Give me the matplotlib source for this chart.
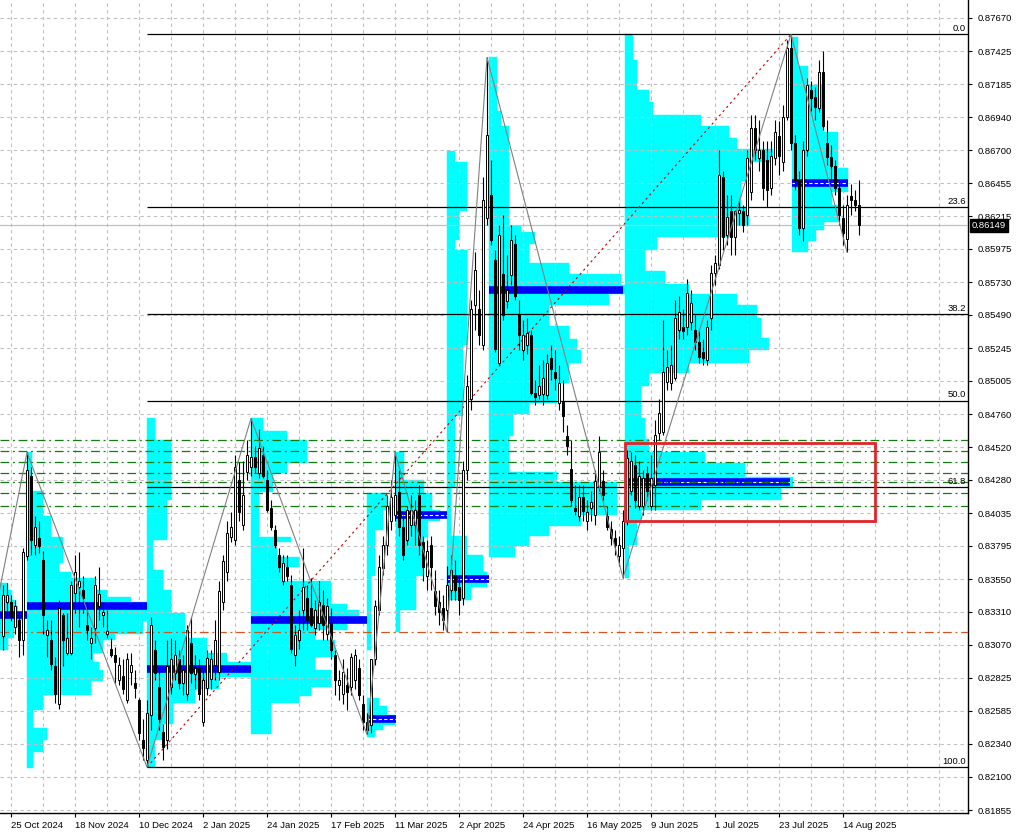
import matplotlib
matplotlib.use("Agg")
import matplotlib.pyplot as plt
from matplotlib.patches import Rectangle
import numpy as np

plt.rcParams['font.family'] = ['Liberation Sans', 'DejaVu Sans']

# daily candles, one per trading day from 23 Oct 2024 to 20 Aug 2025
opens = [0.8313, 0.8338, 0.8338, 0.8320, 0.8325, 0.8310, 0.8372, 0.8431, 0.8380, 0.8385,
         0.8369, 0.8314, 0.8310, 0.8291, 0.8263, 0.8329, 0.8301, 0.8301, 0.8345, 0.8349,
         0.8347, 0.8321, 0.8308, 0.8319, 0.8335, 0.8329, 0.8315, 0.8304, 0.8299, 0.8281,
         0.8284, 0.8266, 0.8287, 0.8279, 0.8266, 0.8237, 0.8222, 0.8255, 0.8303, 0.8276,
         0.8243, 0.8237, 0.8276, 0.8286, 0.8296, 0.8279, 0.8271, 0.8308, 0.8285, 0.8290,
         0.8250, 0.8275, 0.8282, 0.8292, 0.8287, 0.8338, 0.8360, 0.8386, 0.8384, 0.8428,
         0.8395, 0.8434, 0.8437, 0.8445, 0.8433, 0.8446, 0.8428, 0.8407, 0.8391, 0.8373,
         0.8354, 0.8364, 0.8351, 0.8299, 0.8310, 0.8332, 0.8341, 0.8334, 0.8319, 0.8323,
         0.8336, 0.8315, 0.8323, 0.8299, 0.8277, 0.8271, 0.8277, 0.8276, 0.8281, 0.8290,
         0.8263, 0.8250, 0.8248, 0.8296, 0.8332, 0.8363, 0.8380, 0.8398, 0.8402, 0.8419,
         0.8393, 0.8384, 0.8395, 0.8395, 0.8417, 0.8382, 0.8357, 0.8380, 0.8346, 0.8338,
         0.8334, 0.8332, 0.8347, 0.8358, 0.8349, 0.8341, 0.8435, 0.8487, 0.8556, 0.8553,
         0.8527, 0.8620, 0.8637, 0.8589, 0.8514, 0.8579, 0.8559, 0.8578, 0.8601, 0.8550,
         0.8523, 0.8527, 0.8534, 0.8492, 0.8490, 0.8491, 0.8490, 0.8517, 0.8507, 0.8484,
         0.8485, 0.8460, 0.8436, 0.8407, 0.8401, 0.8415, 0.8398, 0.8407, 0.8402, 0.8423,
         0.8427, 0.8401, 0.8392, 0.8385, 0.8372, 0.8378, 0.8398, 0.8420, 0.8439, 0.8409,
         0.8409, 0.8433, 0.8409, 0.8424, 0.8462, 0.8463, 0.8500, 0.8499, 0.8503, 0.8538,
         0.8540, 0.8540, 0.8544, 0.8538, 0.8529, 0.8522, 0.8516, 0.8547, 0.8580, 0.8586,
         0.8650, 0.8608, 0.8625, 0.8606, 0.8624, 0.8625, 0.8622, 0.8639, 0.8686, 0.8664,
         0.8670, 0.8663, 0.8642, 0.8664, 0.8680, 0.8661, 0.8694, 0.8745, 0.8675, 0.8648,
         0.8613, 0.8670, 0.8714, 0.8709, 0.8701, 0.8727, 0.8675, 0.8665, 0.8658, 0.8642,
         0.8620, 0.8605, 0.8636, 0.8633, 0.8630]
highs = [0.8351, 0.8352, 0.8343, 0.8340, 0.8331, 0.8378, 0.8448, 0.8437, 0.8401, 0.8398,
         0.8376, 0.8325, 0.8325, 0.8298, 0.8340, 0.8330, 0.8330, 0.8354, 0.8373, 0.8375,
         0.8357, 0.8338, 0.8320, 0.8357, 0.8364, 0.8338, 0.8332, 0.8312, 0.8305, 0.8298,
         0.8296, 0.8301, 0.8301, 0.8288, 0.8268, 0.8252, 0.8266, 0.8327, 0.8310, 0.8288,
         0.8249, 0.8310, 0.8312, 0.8310, 0.8303, 0.8299, 0.8321, 0.8327, 0.8299, 0.8296,
         0.8288, 0.8303, 0.8303, 0.8325, 0.8354, 0.8373, 0.8398, 0.8404, 0.8446, 0.8441,
         0.8442, 0.8457, 0.8473, 0.8453, 0.8465, 0.8453, 0.8435, 0.8413, 0.8395, 0.8378,
         0.8373, 0.8373, 0.8358, 0.8321, 0.8332, 0.8378, 0.8351, 0.8356, 0.8340, 0.8354,
         0.8347, 0.8341, 0.8334, 0.8303, 0.8288, 0.8296, 0.8290, 0.8301, 0.8304, 0.8296,
         0.8270, 0.8257, 0.8266, 0.8340, 0.8373, 0.8387, 0.8417, 0.8428, 0.8448, 0.8435,
         0.8402, 0.8409, 0.8417, 0.8413, 0.8424, 0.8387, 0.8384, 0.8387, 0.8362, 0.8347,
         0.8343, 0.8365, 0.8373, 0.8369, 0.8358, 0.8442, 0.8505, 0.8560, 0.8595, 0.8567,
         0.8650, 0.8738, 0.8663, 0.8597, 0.8615, 0.8622, 0.8593, 0.8615, 0.8608, 0.8560,
         0.8545, 0.8547, 0.8538, 0.8501, 0.8512, 0.8516, 0.8520, 0.8527, 0.8523, 0.8512,
         0.8501, 0.8468, 0.8457, 0.8424, 0.8424, 0.8424, 0.8413, 0.8420, 0.8435, 0.8460,
         0.8435, 0.8409, 0.8398, 0.8391, 0.8387, 0.8406, 0.8450, 0.8448, 0.8446, 0.8442,
         0.8435, 0.8438, 0.8446, 0.8472, 0.8487, 0.8545, 0.8523, 0.8527, 0.8560, 0.8563,
         0.8553, 0.8575, 0.8567, 0.8549, 0.8538, 0.8531, 0.8545, 0.8586, 0.8593, 0.8670,
         0.8655, 0.8637, 0.8637, 0.8626, 0.8633, 0.8630, 0.8670, 0.8696, 0.8696, 0.8692,
         0.8677, 0.8677, 0.8677, 0.8692, 0.8691, 0.8703, 0.8751, 0.8755, 0.8681, 0.8655,
         0.8677, 0.8723, 0.8721, 0.8716, 0.8736, 0.8743, 0.8692, 0.8674, 0.8663, 0.8648,
         0.8630, 0.8637, 0.8645, 0.8641, 0.8648]
lows = [0.8303, 0.8330, 0.8324, 0.8315, 0.8298, 0.8299, 0.8369, 0.8373, 0.8373, 0.8374,
        0.8315, 0.8298, 0.8288, 0.8264, 0.8260, 0.8291, 0.8299, 0.8299, 0.8330, 0.8320,
        0.8330, 0.8310, 0.8296, 0.8308, 0.8325, 0.8320, 0.8312, 0.8298, 0.8279, 0.8277,
        0.8271, 0.8264, 0.8277, 0.8268, 0.8237, 0.8222, 0.8217, 0.8244, 0.8281, 0.8244,
        0.8222, 0.8230, 0.8271, 0.8281, 0.8274, 0.8270, 0.8266, 0.8279, 0.8274, 0.8266,
        0.8247, 0.8270, 0.8274, 0.8281, 0.8281, 0.8332, 0.8354, 0.8382, 0.8380, 0.8398,
        0.8391, 0.8428, 0.8431, 0.8433, 0.8429, 0.8429, 0.8404, 0.8391, 0.8378, 0.8360,
        0.8351, 0.8354, 0.8301, 0.8291, 0.8304, 0.8318, 0.8318, 0.8320, 0.8314, 0.8318,
        0.8310, 0.8310, 0.8296, 0.8270, 0.8266, 0.8263, 0.8259, 0.8270, 0.8274, 0.8266,
        0.8244, 0.8241, 0.8242, 0.8292, 0.8329, 0.8358, 0.8373, 0.8391, 0.8398, 0.8387,
        0.8369, 0.8380, 0.8387, 0.8380, 0.8373, 0.8354, 0.8347, 0.8347, 0.8329, 0.8321,
        0.8318, 0.8316, 0.8340, 0.8340, 0.8329, 0.8336, 0.8428, 0.8479, 0.8538, 0.8527,
        0.8523, 0.8615, 0.8600, 0.8522, 0.8512, 0.8545, 0.8554, 0.8571, 0.8560, 0.8523,
        0.8516, 0.8520, 0.8490, 0.8483, 0.8487, 0.8483, 0.8487, 0.8501, 0.8494, 0.8479,
        0.8463, 0.8446, 0.8409, 0.8402, 0.8398, 0.8398, 0.8391, 0.8398, 0.8395, 0.8420,
        0.8413, 0.8391, 0.8380, 0.8373, 0.8365, 0.8356, 0.8395, 0.8417, 0.8407, 0.8406,
        0.8402, 0.8413, 0.8406, 0.8406, 0.8457, 0.8461, 0.8494, 0.8494, 0.8501, 0.8531,
        0.8531, 0.8534, 0.8538, 0.8523, 0.8514, 0.8512, 0.8512, 0.8538, 0.8571, 0.8583,
        0.8597, 0.8600, 0.8593, 0.8593, 0.8615, 0.8610, 0.8615, 0.8633, 0.8663, 0.8655,
        0.8633, 0.8628, 0.8637, 0.8659, 0.8652, 0.8655, 0.8692, 0.8670, 0.8641, 0.8608,
        0.8603, 0.8666, 0.8699, 0.8692, 0.8698, 0.8685, 0.8659, 0.8648, 0.8637, 0.8615,
        0.8600, 0.8595, 0.8622, 0.8625, 0.8608]
closes = [0.8343, 0.8343, 0.8327, 0.8335, 0.8310, 0.8375, 0.8435, 0.8384, 0.8393, 0.8379,
          0.8329, 0.8318, 0.8293, 0.8271, 0.8334, 0.8310, 0.8312, 0.8351, 0.8360, 0.8354,
          0.8341, 0.8318, 0.8312, 0.8351, 0.8344, 0.8331, 0.8317, 0.8299, 0.8294, 0.8292,
          0.8274, 0.8296, 0.8292, 0.8275, 0.8242, 0.8231, 0.8257, 0.8321, 0.8286, 0.8252,
          0.8232, 0.8291, 0.8296, 0.8299, 0.8279, 0.8288, 0.8318, 0.8286, 0.8290, 0.8271,
          0.8281, 0.8297, 0.8296, 0.8310, 0.8346, 0.8368, 0.8389, 0.8393, 0.8437, 0.8404,
          0.8417, 0.8446, 0.8445, 0.8437, 0.8451, 0.8431, 0.8406, 0.8393, 0.8380, 0.8364,
          0.8367, 0.8357, 0.8304, 0.8314, 0.8318, 0.8349, 0.8325, 0.8321, 0.8332, 0.8338,
          0.8321, 0.8335, 0.8303, 0.8281, 0.8281, 0.8287, 0.8272, 0.8298, 0.8299, 0.8270,
          0.8250, 0.8244, 0.8296, 0.8335, 0.8364, 0.8380, 0.8409, 0.8415, 0.8417, 0.8393,
          0.8373, 0.8406, 0.8406, 0.8406, 0.8380, 0.8364, 0.8376, 0.8364, 0.8335, 0.8331,
          0.8325, 0.8351, 0.8362, 0.8347, 0.8340, 0.8435, 0.8497, 0.8553, 0.8582, 0.8534,
          0.8633, 0.8681, 0.8604, 0.8524, 0.8608, 0.8549, 0.8567, 0.8604, 0.8563, 0.8534,
          0.8534, 0.8536, 0.8492, 0.8489, 0.8497, 0.8503, 0.8514, 0.8509, 0.8503, 0.8499,
          0.8475, 0.8453, 0.8413, 0.8405, 0.8415, 0.8405, 0.8404, 0.8412, 0.8427, 0.8448,
          0.8417, 0.8393, 0.8385, 0.8380, 0.8380, 0.8398, 0.8444, 0.8442, 0.8413, 0.8431,
          0.8429, 0.8420, 0.8429, 0.8461, 0.8477, 0.8507, 0.8511, 0.8512, 0.8547, 0.8551,
          0.8537, 0.8565, 0.8558, 0.8529, 0.8518, 0.8517, 0.8540, 0.8580, 0.8587, 0.8652,
          0.8606, 0.8621, 0.8606, 0.8625, 0.8626, 0.8615, 0.8664, 0.8686, 0.8670, 0.8670,
          0.8642, 0.8641, 0.8666, 0.8683, 0.8666, 0.8694, 0.8745, 0.8675, 0.8648, 0.8613,
          0.8670, 0.8718, 0.8708, 0.8702, 0.8727, 0.8688, 0.8665, 0.8658, 0.8642, 0.8622,
          0.8609, 0.8630, 0.8633, 0.8630, 0.86149]
last_price = 0.86149

# axis labels (price scale on the right, dates on the bottom)
price_ticks = ['0.87670', '0.87425', '0.87185', '0.86940', '0.86700', '0.86455', '0.86215',
               '0.85975', '0.85730', '0.85490', '0.85245', '0.85005', '0.84760', '0.84520',
               '0.84280', '0.84035', '0.83795', '0.83550', '0.83310', '0.83070', '0.82825',
               '0.82585', '0.82340', '0.82100', '0.81855']
date_bars = [2, 18, 34, 50, 66, 82, 98, 114, 130, 146, 162, 178, 194, 210]
date_labels = ['25 Oct 2024', '18 Nov 2024', '10 Dec 2024', '2 Jan 2025', '24 Jan 2025',
               '17 Feb 2025', '11 Mar 2025', '2 Apr 2025', '24 Apr 2025', '16 May 2025',
               '9 Jun 2025', '1 Jul 2025', '23 Jul 2025', '14 Aug 2025']

# zigzag swing points (bar, price)
zz_bars = [-1, 6, 36, 62, 91, 98, 111, 121, 155, 197, 211]
zz_prices = [0.8345, 0.8448, 0.8217, 0.8473, 0.8241, 0.8448, 0.8316, 0.8738, 0.8356, 0.8755, 0.8595]

# fibonacci retracement from the Dec low to the Jul high
fib_low_bar, fib_low = 36, 0.8217
fib_high_bar, fib_high = 197, 0.8755
fib_ratios = [0.0, 23.6, 38.2, 50.0, 61.8, 100.0]

# horizontal levels
green_levels = [0.8457, 0.8449, 0.8441, 0.8433, 0.8426, 0.8418, 0.8409]
orange_level = 0.8316
box_bars = [155.5, 218]
box_prices = [0.8398, 0.8455]

# volume profiles: price steps (top -> bottom) and volume width in bars
prof_a_levels = [0.8352, 0.8347, 0.8340, 0.8335, 0.8330, 0.8325, 0.8320, 0.8312, 0.8303]
prof_a_vol = [2, 3, 4, 4.5, 5.5, 4.5, 3.5, 2]
prof_b_levels = [0.8448, 0.8420, 0.8401, 0.8386, 0.8367, 0.8360, 0.8356, 0.8347, 0.8342, 0.8338,
                 0.8324, 0.8315, 0.8310, 0.8301, 0.8294, 0.8288, 0.8280, 0.8270, 0.8259, 0.8246,
                 0.8237, 0.8228, 0.8216]
prof_b_vol = [1.25, 4, 6, 9, 8, 11, 17, 20, 26, 30, 29, 22, 19, 16.5, 18, 19, 16, 4, 1.5, 5, 4, 1.5]
prof_c_levels = [0.8473, 0.8457, 0.8413, 0.8384, 0.8362, 0.8347, 0.8330, 0.8312, 0.8301, 0.8294,
                 0.8283, 0.8274, 0.8264, 0.8249, 0.8237, 0.8217]
prof_c_vol = [2, 6, 5, 1.5, 4, 6, 9.5, 15, 20, 26, 18, 12, 6.5, 4, 2]
prof_d_levels = [0.8473, 0.8464, 0.8457, 0.8440, 0.8433, 0.8419, 0.8386, 0.8382, 0.8371, 0.8364,
                 0.8354, 0.8337, 0.8332, 0.8327, 0.8323, 0.8318, 0.8310, 0.8298, 0.8288, 0.8276,
                 0.8269, 0.8264, 0.8241]
prof_d_vol = [3, 9, 14, 9, 5.5, 2, 10, 6.5, 12, 8, 20, 24, 27, 29, 24, 16, 21, 16, 20, 15, 12, 5]
prof_e_levels = [0.8418, 0.8406, 0.8391, 0.8357, 0.8303, 0.8268, 0.8262, 0.8255, 0.8248, 0.8244, 0.8239]
prof_e_vol = [5, 4, 2, 1, 0, 3, 5, 7, 4, 2]
prof_f_levels = [0.8448, 0.8428, 0.8418, 0.8406, 0.8398, 0.8386, 0.8357, 0.8332, 0.8316]
prof_f_vol = [2, 7, 9, 11, 8, 7, 5, 1]
prof_g_levels = [0.8669, 0.8661, 0.8625, 0.8604, 0.8597, 0.8527, 0.8475, 0.8423, 0.8387, 0.8373,
                 0.8360, 0.8349, 0.8340]
prof_g_vol = [2, 5, 3, 2, 5, 4, 2, 1, 5, 9, 10, 6]
prof_h_levels = [0.8738, 0.8699, 0.8688, 0.8614, 0.8610, 0.8601, 0.8587, 0.8579, 0.8571, 0.8564,
                 0.8556, 0.8541, 0.8531, 0.8523, 0.8514, 0.8499, 0.8484, 0.8476, 0.8460, 0.8434,
                 0.8426, 0.8402, 0.8394, 0.8387, 0.8379, 0.8371]
prof_h_vol = [2, 3, 5, 8, 11.5, 10, 20, 33, 34, 30, 15, 20, 22, 23, 20, 17, 10, 6, 5, 17, 32, 23,
              15, 10, 6.5]
prof_i_levels = [0.8755, 0.8736, 0.8714, 0.8705, 0.8696, 0.8688, 0.8679, 0.8671, 0.8661, 0.8647,
                 0.8628, 0.8615, 0.8606, 0.8597, 0.8581, 0.8572, 0.8564, 0.8556, 0.8547, 0.8532,
                 0.8523, 0.8514, 0.8506, 0.8497, 0.8473, 0.8458, 0.8448, 0.8440, 0.8430, 0.8422,
                 0.8413, 0.8406, 0.8398, 0.8380, 0.8356]
prof_i_vol = [2, 3, 6, 7, 19, 26, 28, 37, 31, 29, 31, 27, 8, 5, 10, 16, 28, 33, 34, 36, 31, 16, 6,
              4, 5, 6, 20, 30, 42, 39, 19, 4, 3, 1]
prof_j_levels = [0.8753, 0.8732, 0.8718, 0.8683, 0.8657, 0.8639, 0.8630, 0.8617, 0.8611, 0.8603, 0.8595]
prof_j_vol = [1.5, 4, 8, 11.5, 14, 10, 11.5, 8, 6, 4]

prof_start = [-0.75, 6, 36, 62, 91, 98.25, 111, 121.5, 155.5, 197.25]
prof_end = [6, 36, 62, 91, 98.25, 111, 121.5, 155, 196.75, 211.25]
poc_prices = [0.8329, 0.8335, 0.8289, 0.8325, 0.8252, 0.8402, 0.8355, 0.8567, 0.8426, 0.8646]
poc_dashed = [False, False, False, False, True, True, True, False, True, True]

profiles = [(prof_a_levels, prof_a_vol), (prof_b_levels, prof_b_vol), (prof_c_levels, prof_c_vol),
            (prof_d_levels, prof_d_vol), (prof_e_levels, prof_e_vol), (prof_f_levels, prof_f_vol),
            (prof_g_levels, prof_g_vol), (prof_h_levels, prof_h_vol), (prof_i_levels, prof_i_vol),
            (prof_j_levels, prof_j_vol)]

fig = plt.figure(figsize=(10.17, 8.35), dpi=100)
ax = fig.add_axes([0, 22 / 835, 968 / 1017, 813 / 835])

# volume profiles
for start, (levels, vols) in zip(prof_start, profiles):
    lv = np.array(levels)
    ax.barh(lv[1:], vols, height=lv[:-1] - lv[1:], left=start, align='edge',
            color='#00ffff', edgecolor='#00ffff', linewidth=0.3, zorder=1)

# POC lines
for s, e, p, dashed in zip(prof_start, prof_end, poc_prices, poc_dashed):
    ax.plot([s, e], [p, p], color='#0000ff', lw=5.5, solid_capstyle='butt', zorder=3)
    if dashed:
        ax.plot([s, e], [p, p], color='white', lw=0.8, ls=(0, (3, 2)), zorder=3.1)

# horizontal levels
for lvl in green_levels:
    ax.axhline(lvl, color='#107c10', lw=0.9, ls=(0, (7, 3, 1.5, 3)), zorder=4)
ax.axhline(orange_level, color='#d2561e', lw=0.9, ls=(0, (7, 3, 1.5, 3)), zorder=4)
ax.axhline(last_price, color='#c0c0c0', lw=0.9, zorder=3)

# fibonacci
fib_range = fib_high - fib_low
for r in fib_ratios:
    lvl = fib_high - r / 100 * fib_range
    ax.hlines(lvl, fib_low_bar, 241.25, color='black', lw=0.9, zorder=4)
    ax.text(240.8, lvl + 0.0001, f'{r:.1f}', ha='right', va='bottom', fontsize=6.8, zorder=8)
ax.plot([fib_low_bar, fib_high_bar], [fib_low, fib_high], color='#c00000', lw=0.8,
        ls=(0, (2, 3)), zorder=4)

# candles
x = np.arange(len(closes))
o = np.array(opens)
c = np.array(closes)
h = np.array(highs)
l = np.array(lows)
up = c >= o
ax.vlines(x, l, h, color='black', lw=0.8, zorder=5)
ax.bar(x[up], c[up] - o[up], bottom=o[up], width=0.55, color='white', edgecolor='black',
       linewidth=0.7, zorder=6)
ax.bar(x[~up], o[~up] - c[~up], bottom=c[~up], width=0.55, color='black', edgecolor='black',
       linewidth=0.7, zorder=6)

# zigzag
ax.plot(zz_bars, zz_prices, color='#808080', lw=0.8, zorder=7)

# highlighted zone
ax.add_patch(Rectangle((box_bars[0], box_prices[0]), box_bars[1] - box_bars[0],
                       box_prices[1] - box_prices[0], fill=False, edgecolor='#e0242c',
                       linewidth=2, zorder=8))

# axes styling
ax.yaxis.tick_right()
ax.set_yticks([float(t) for t in price_ticks])
ax.set_yticklabels(price_ticks, fontsize=6.8)
ax.set_xticks(date_bars)
ax.set_xticklabels(date_labels, fontsize=6.8, ha='left')
ax.set_xticks(np.arange(-6, 242, 8), minor=True)
ax.tick_params(axis='y', length=3, pad=4, width=0.8)
ax.tick_params(axis='x', which='major', length=3, pad=3, width=0.8)
ax.tick_params(axis='x', which='minor', length=0)
ax.set_axisbelow(False)
ax.grid(True, axis='x', which='both', color='#c0c0c0', lw=0.8, ls=(0, (3, 3)))
ax.grid(True, axis='y', which='major', color='#c0c0c0', lw=0.8, ls=(0, (3, 3)))
for side in ['left', 'top']:
    ax.spines[side].set_visible(False)
for side in ['right', 'bottom']:
    ax.spines[side].set_linewidth(1)

# limits last, so the tick lists do not widen the view
ax.set_xlim(-0.75, 241.25)
ax.set_ylim(0.81833, 0.87802)

ax.text(1.004, last_price - 0.00004, f'{last_price:.5f}', transform=ax.get_yaxis_transform(),
        ha='left', va='center', fontsize=6.8, color='white', zorder=10, clip_on=False,
        bbox=dict(facecolor='black', edgecolor='black', pad=1.2))

fig.savefig('out.png', dpi=100)
